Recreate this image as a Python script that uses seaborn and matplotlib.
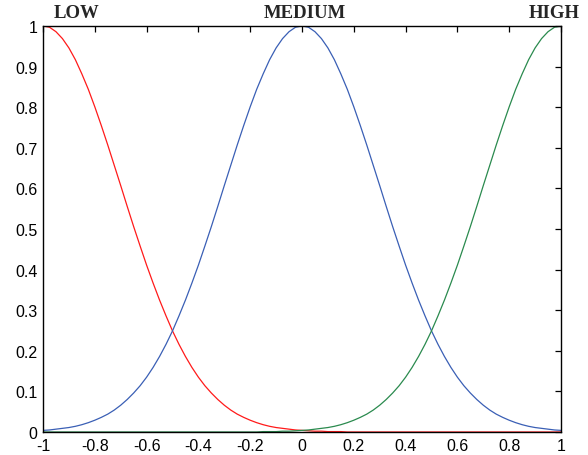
import numpy as np
import pandas as pd
import seaborn as sns
import matplotlib.pyplot as plt

# x positions of the sampled membership values (step 0.025)
x_vals = [round(-1 + 0.025 * i, 3) for i in range(81)]

# membership values (LOW falls from 1 at -1)
low = [1.000, 0.997, 0.986, 0.969, 0.946, 0.917, 0.882, 0.844, 0.801, 0.755,
       0.707, 0.657, 0.607, 0.556, 0.506, 0.458, 0.411, 0.367, 0.325, 0.286,
       0.249, 0.216, 0.186, 0.159, 0.135, 0.114, 0.096, 0.080, 0.066, 0.054,
       0.044, 0.036, 0.029, 0.023, 0.018, 0.014, 0.011, 0.009, 0.007, 0.005,
       0.004, 0.003, 0.002, 0.002, 0.001, 0.001, 0.001, 0.000, 0.000, 0.000,
       0.000, 0.000, 0.000, 0.000, 0.000, 0.000, 0.000, 0.000, 0.000, 0.000,
       0.000, 0.000, 0.000, 0.000, 0.000, 0.000, 0.000, 0.000, 0.000, 0.000,
       0.000, 0.000, 0.000, 0.000, 0.000, 0.000, 0.000, 0.000, 0.000, 0.000,
       0.000]
medium = [0.004, 0.005, 0.007, 0.009, 0.011, 0.014, 0.018, 0.023, 0.029, 0.036,
          0.044, 0.054, 0.066, 0.080, 0.096, 0.114, 0.135, 0.159, 0.186, 0.216,
          0.249, 0.286, 0.325, 0.367, 0.411, 0.458, 0.506, 0.556, 0.607, 0.657,
          0.707, 0.755, 0.801, 0.844, 0.882, 0.917, 0.946, 0.969, 0.986, 0.997,
          1.000, 0.997, 0.986, 0.969, 0.946, 0.917, 0.882, 0.844, 0.801, 0.755,
          0.707, 0.657, 0.607, 0.556, 0.506, 0.458, 0.411, 0.367, 0.325, 0.286,
          0.249, 0.216, 0.186, 0.159, 0.135, 0.114, 0.096, 0.080, 0.066, 0.054,
          0.044, 0.036, 0.029, 0.023, 0.018, 0.014, 0.011, 0.009, 0.007, 0.005,
          0.004]
high = low[::-1]

labels = ['LOW', 'MEDIUM', 'HIGH']
label_x = [-0.87, 0.01, 0.975]

n = len(x_vals)
df = pd.DataFrame({'x': x_vals * 3,
                   'y': low + medium + high,
                   'set': ['LOW'] * n + ['MEDIUM'] * n + ['HIGH'] * n})

sns.set_style('white')
plt.rcParams['font.family'] = ['Liberation Sans', 'DejaVu Sans']

fig = plt.figure(figsize=(5.88, 4.56), dpi=100)
ax = fig.add_axes([43 / 588, 23 / 456, 518 / 588, 406 / 456])

palette = {'LOW': '#ff1a1a', 'MEDIUM': '#3a5fb5', 'HIGH': '#2a8a4e'}
sns.lineplot(data=df, x='x', y='y', hue='set', palette=palette,
             linewidth=0.9, legend=False, ax=ax)

ax.set_xlim(-1, 1)
ax.set_ylim(0, 1)
ax.set_xticks(np.arange(-1, 1.01, 0.2))
ax.set_xticklabels(['-1', '-0.8', '-0.6', '-0.4', '-0.2', '0', '0.2', '0.4', '0.6', '0.8', '1'])
ax.set_yticks(np.arange(0, 1.01, 0.1))
ax.set_yticklabels(['0', '0.1', '0.2', '0.3', '0.4', '0.5', '0.6', '0.7', '0.8', '0.9', '1'])
ax.set_xlabel('')
ax.set_ylabel('')
ax.tick_params(direction='in', length=4, width=0.9, labelsize=11.5,
               top=True, right=True, colors='black', pad=4)
for s in ax.spines.values():
    s.set_color('black')
    s.set_linewidth(1.0)
    s.set_visible(True)

for lab, lx in zip(labels, label_x):
    ax.text(lx, 1.012, lab, transform=ax.get_xaxis_transform(), ha='center',
            va='bottom', fontsize=13.5, fontweight='bold',
            family=['Liberation Serif', 'DejaVu Serif'], clip_on=False)

fig.savefig('out.png', dpi=100)
plt.close(fig)
